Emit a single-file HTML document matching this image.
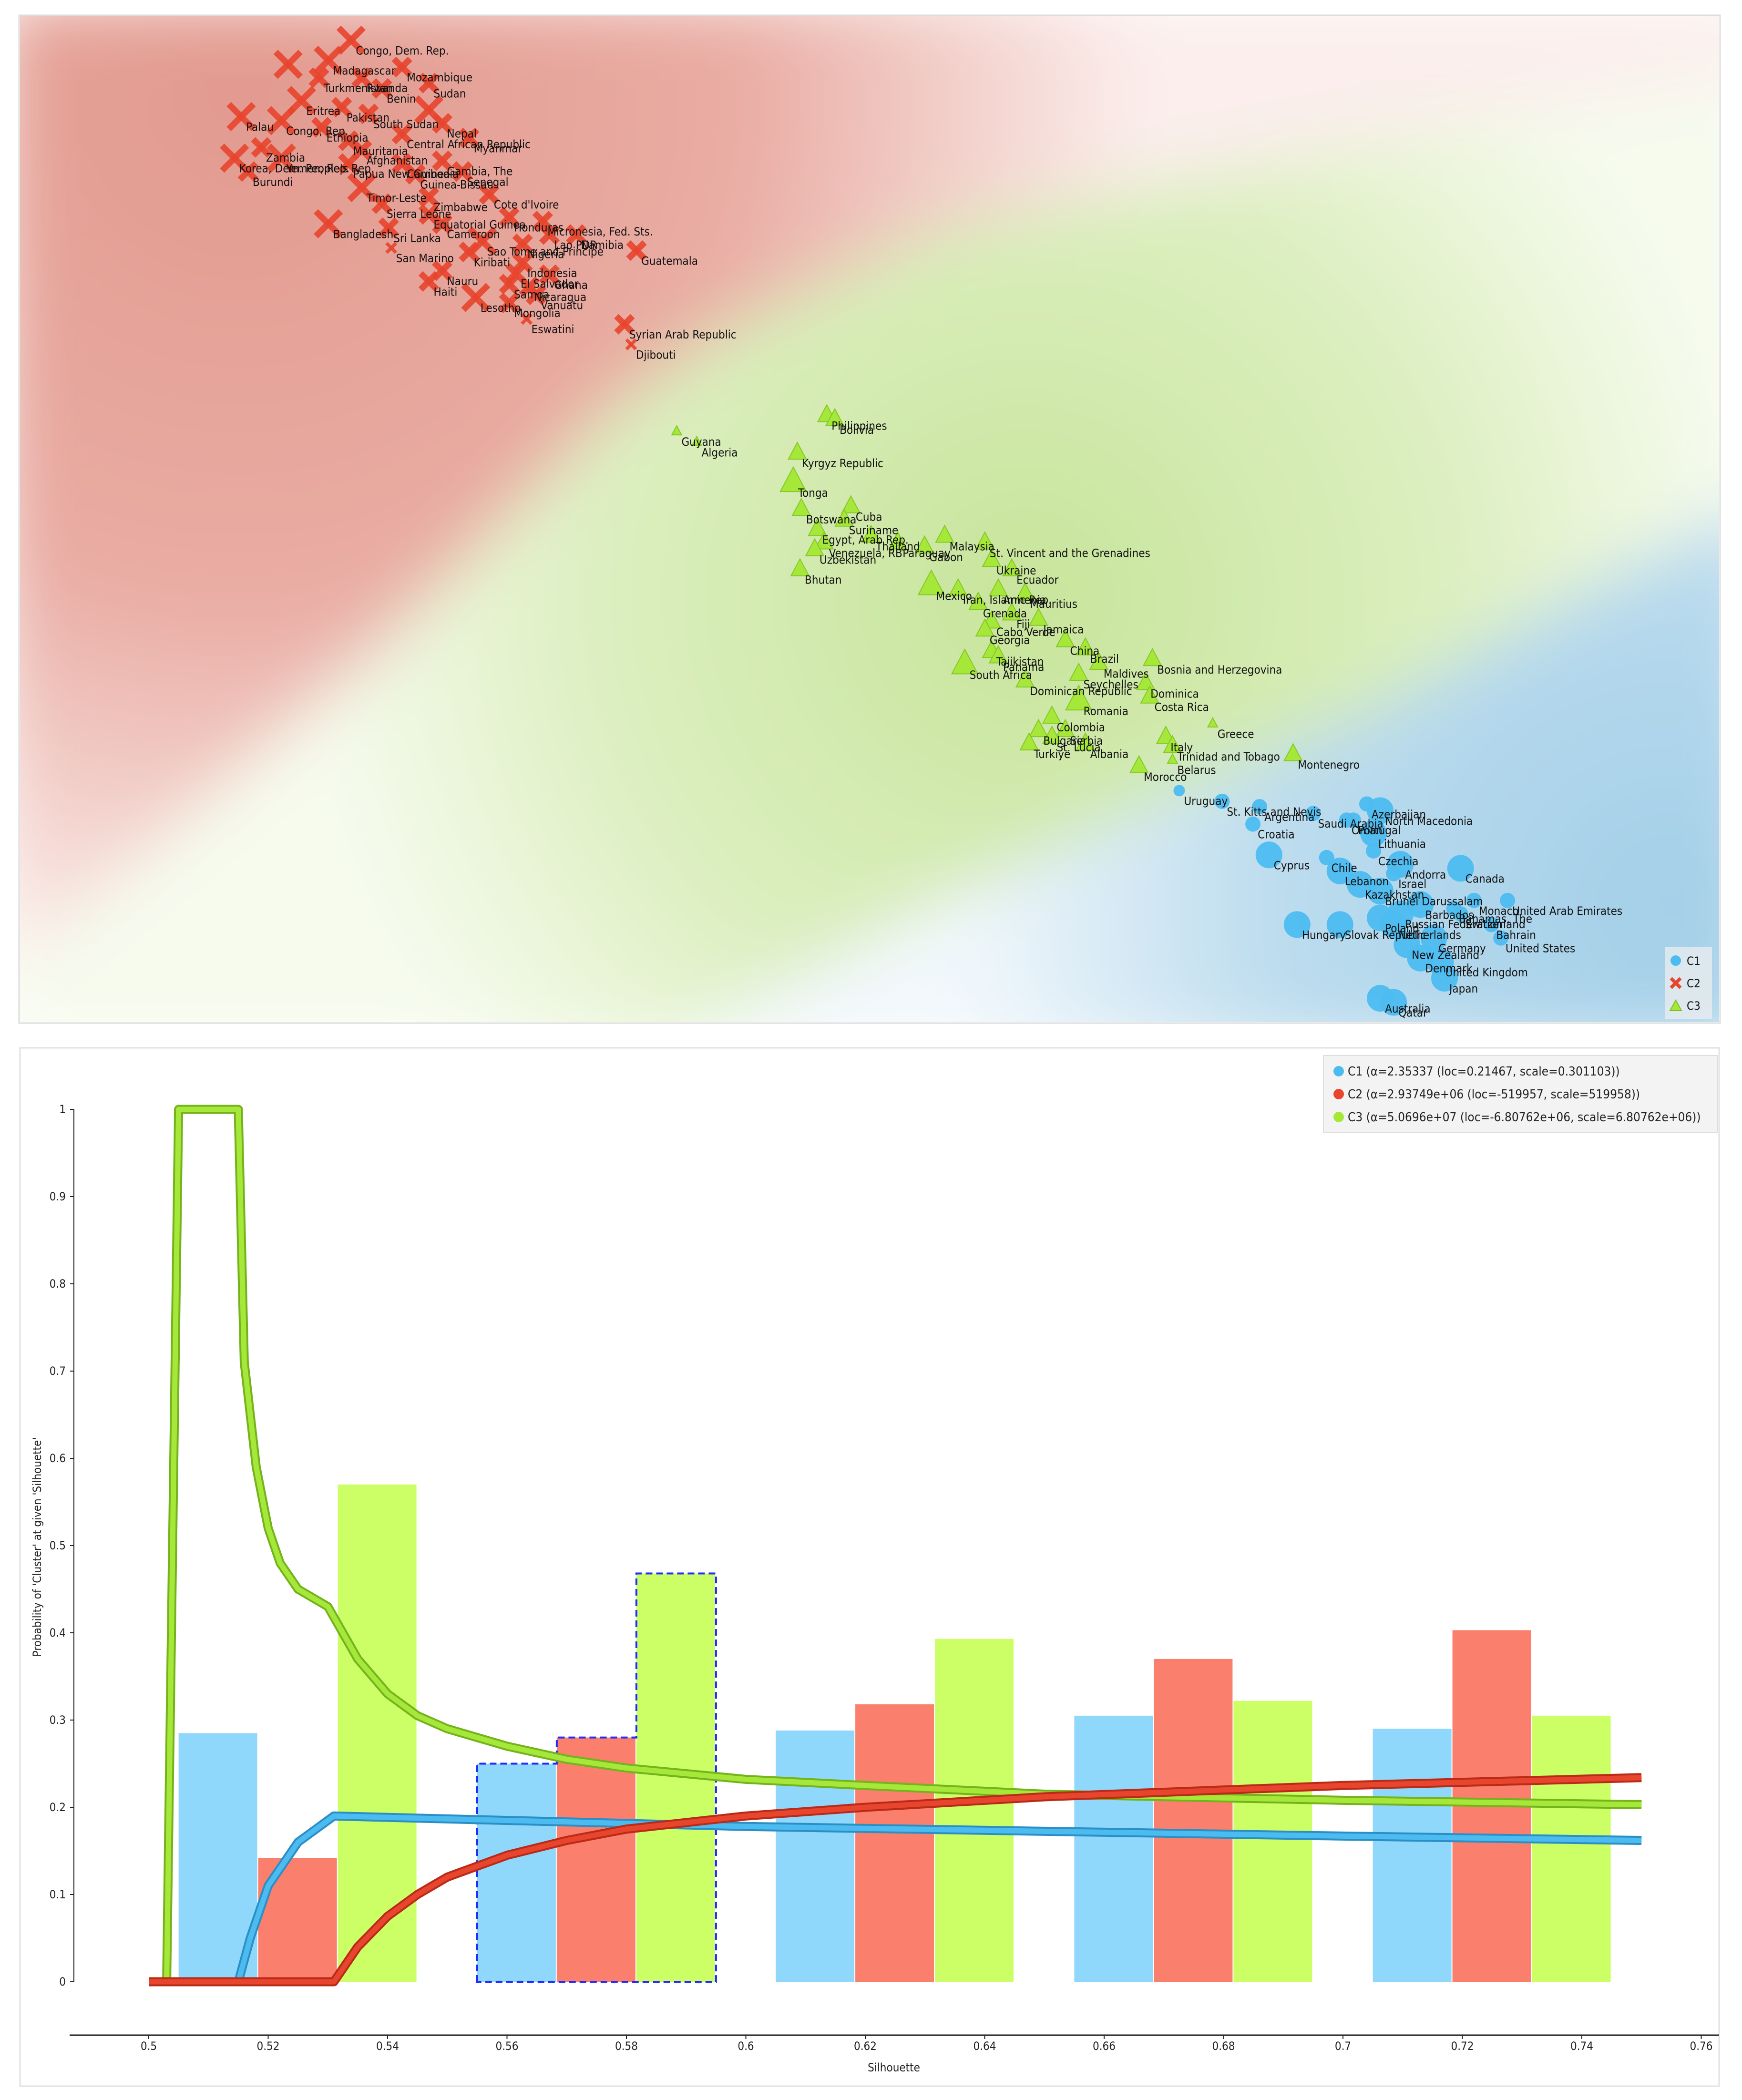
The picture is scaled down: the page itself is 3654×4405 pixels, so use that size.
<!DOCTYPE html>
<html><head><meta charset="utf-8"><style>
html,body{margin:0;padding:0;background:#fff;}
svg{display:block;}
.lbl{font-family:"DejaVu Sans Condensed","Liberation Sans Narrow","Liberation Sans",sans-serif;font-stretch:condensed;font-size:24px;fill:#111;}
.tick{font-family:"DejaVu Sans Condensed","Liberation Sans Narrow","Liberation Sans",sans-serif;font-stretch:condensed;font-size:24px;fill:#222;}
.leg{font-family:"DejaVu Sans Condensed","Liberation Sans Narrow","Liberation Sans",sans-serif;font-stretch:condensed;font-size:26px;fill:#222;}
</style></head><body>
<svg id="svg" xmlns="http://www.w3.org/2000/svg" width="3654" height="4405" viewBox="0 0 3654 4405">
<defs>
<filter id="blur" x="-20%" y="-20%" width="140%" height="140%"><feGaussianBlur stdDeviation="70"/></filter>
<radialGradient id="gRed" gradientUnits="userSpaceOnUse" cx="500" cy="200" r="1900"><stop offset="0" stop-color="#e29a8f"/><stop offset="0.55" stop-color="#e9aca3"/><stop offset="1" stop-color="#fbeeec"/></radialGradient>
<radialGradient id="gGreen" gradientUnits="userSpaceOnUse" cx="2150" cy="1250" r="1500"><stop offset="0" stop-color="#c7e49a"/><stop offset="0.6" stop-color="#dcefc0"/><stop offset="1" stop-color="#f6fbee"/></radialGradient>
<radialGradient id="gBlue" gradientUnits="userSpaceOnUse" cx="3500" cy="1900" r="1500"><stop offset="0" stop-color="#a3cfe8"/><stop offset="0.55" stop-color="#bcdcee"/><stop offset="1" stop-color="#f2f8fc"/></radialGradient>
<clipPath id="topClip"><rect x="42" y="34" width="3564" height="2110"/></clipPath>
</defs>
<g>
<rect x="40" y="32" width="3568" height="2114" fill="#fff" stroke="#ddd" stroke-width="3"/>
<g clip-path="url(#topClip)">
<g filter="url(#blur)">
<polygon points="0,0 3700,0 3700,150 3100,250 1967,480 1500,700 1293,843 800,1350 0,2050" fill="url(#gRed)"/>
<polygon points="0,2050 800,1350 1293,843 1500,700 1967,480 3100,250 3700,150 3700,1050 3300,1250 2900,1480 2470,1660 1950,1900 1400,2200 0,2200" fill="url(#gGreen)"/>
<polygon points="1400,2200 1950,1900 2470,1660 2900,1480 3300,1250 3700,1050 3700,2200" fill="url(#gBlue)"/>
</g>
</g>
<g id="pts"></g>
<g>
<rect x="3493" y="1987" width="98" height="150" fill="#e9ecef" opacity="0.8"/>
<circle cx="3515" cy="2015" r="11" fill="#4cbcf0"/><text class="lbl" x="3538" y="2024">C1</text>
<g stroke="#e8452e" stroke-width="7"><line x1="3505" y1="2052" x2="3525" y2="2072"/><line x1="3525" y1="2052" x2="3505" y2="2072"/></g><text class="lbl" x="3538" y="2071">C2</text>
<polygon points="3515,2098 3527,2120 3503,2120" fill="#a6e83a" stroke="#7fbf1e" stroke-width="2"/><text class="lbl" x="3538" y="2118">C3</text>
</g>
</g>
<g>
<rect x="42" y="2198" width="3564" height="2178" fill="#fff" stroke="#e2e2e2" stroke-width="3"/>
<g id="chart"></g>
<g>
<rect x="2776" y="2214" width="827" height="161" fill="#f3f3f3" stroke="#ddd" stroke-width="2"/>
<circle cx="2808" cy="2247" r="11" fill="#4cbcf0"/><text class="leg" x="2827" y="2256">C1 (α=2.35337 (loc=0.21467, scale=0.301103))</text>
<circle cx="2808" cy="2295" r="11" fill="#e8452e"/><text class="leg" x="2827" y="2304">C2 (α=2.93749e+06 (loc=-519957, scale=519958))</text>
<circle cx="2808" cy="2343" r="11" fill="#a6e83a"/><text class="leg" x="2827" y="2352">C3 (α=5.0696e+07 (loc=-6.80762e+06, scale=6.80762e+06))</text>
</g>
</g>
</svg>
<script>
const c2 = [[262,30,3,"Congo, Dem. Rep."],[215,48,3,""],[245,45,3,"Madagascar"],[300,50,2,"Mozambique"],[238,58,2,"Turkmenistan"],[270,58,2,"Rwanda"],[320,62,2,"Sudan"],[285,66,2,"Benin"],[225,75,3,"Eritrea"],[255,80,2,"Pakistan"],[275,85,2,"South Sudan"],[320,82,3,""],[180,87,3,"Palau"],[210,90,3,"Congo, Rep."],[330,92,2,"Nepal"],[240,95,2,"Ethiopia"],[300,100,2,"Central African Republic"],[350,103,2,"Myanmar"],[260,105,2,"Mauritania"],[195,110,2,"Zambia"],[270,112,2,"Afghanistan"],[175,118,3,"Korea, Dem. People's Rep."],[210,118,3,"Yemen, Rep."],[260,122,2,"Papua New Guinea"],[300,122,2,"Cambodia"],[330,120,2,"Gambia, The"],[345,128,2,"Senegal"],[185,128,2,"Burundi"],[310,130,2,"Guinea-Bissau"],[270,140,3,"Timor-Leste"],[320,147,2,"Zimbabwe"],[285,152,2,"Sierra Leone"],[365,145,2,"Cote d'Ivoire"],[320,160,2,"Equatorial Guinea"],[330,167,2,"Cameroon"],[380,162,2,"Honduras"],[405,165,2,"Micronesia, Fed. Sts."],[245,167,3,"Bangladesh"],[290,170,2,"Sri Lanka"],[410,175,2,"Lao PDR"],[430,175,2,"Namibia"],[360,180,3,"Sao Tome and Principe"],[390,182,2,"Nigeria"],[350,188,2,"Kiribati"],[475,187,2,"Guatemala"],[390,196,2,"Indonesia"],[292,185,1,"San Marino"],[330,202,2,"Nauru"],[385,204,2,"El Salvador"],[410,205,2,"Ghana"],[320,210,2,"Haiti"],[380,212,2,"Samoa"],[395,214,2,"Nicaragua"],[400,220,2,"Vanuatu"],[355,222,3,"Lesotho"],[380,226,2,"Mongolia"],[393,238,1,"Eswatini"],[466,242,2,"Syrian Arab Republic"],[471,257,1,"Djibouti"]];
const c3 = [[505,322,1,"Guyana"],[520,330,1,"Algeria"],[617,310,2,"Philippines"],[623,313,2,"Bolivia"],[595,338,2,"Kyrgyz Republic"],[592,360,3,"Tonga"],[598,380,2,"Botswana"],[635,378,2,"Cuba"],[630,388,2,"Suriname"],[610,395,2,"Egypt, Arab Rep."],[615,405,2,"Venezuela, RB"],[608,410,2,"Uzbekistan"],[650,400,2,"Thailand"],[670,405,2,"Paraguay"],[690,408,2,"Gabon"],[705,400,2,"Malaysia"],[735,405,2,"St. Vincent and the Grenadines"],[740,418,2,"Ukraine"],[755,425,2,"Ecuador"],[597,425,2,"Bhutan"],[695,437,3,"Mexico"],[715,440,2,"Iran, Islamic Rep."],[745,440,2,"Armenia"],[765,443,2,"Mauritius"],[730,450,2,"Grenada"],[755,458,2,"Fiji"],[740,464,2,"Cabo Verde"],[775,462,2,"Jamaica"],[735,470,2,"Georgia"],[795,478,2,"China"],[810,484,2,"Brazil"],[740,486,2,"Tajikistan"],[745,490,2,"Panama"],[720,496,3,"South Africa"],[820,495,2,"Maldives"],[860,492,2,"Bosnia and Herzegovina"],[805,503,2,"Seychelles"],[765,508,2,"Dominican Republic"],[855,510,2,"Dominica"],[858,520,2,"Costa Rica"],[805,523,3,"Romania"],[785,535,2,"Colombia"],[775,545,2,"Bulgaria"],[795,545,2,"Serbia"],[785,550,2,"St. Lucia"],[768,555,2,"Turkiye"],[810,555,2,"Albania"],[905,540,1,"Greece"],[870,550,2,"Italy"],[875,557,2,"Trinidad and Tobago"],[875,567,1,"Belarus"],[850,572,2,"Morocco"],[965,563,2,"Montenegro"]];
const c1 = [[880,590,1,"Uruguay"],[912,598,2,"St. Kitts and Nevis"],[940,602,2,"Argentina"],[980,607,2,"Saudi Arabia"],[1005,612,2,"Oman"],[1010,612,2,"Portugal"],[1020,600,2,"Azerbaijan"],[1030,605,3,"North Macedonia"],[935,615,2,"Croatia"],[1025,622,3,"Lithuania"],[1025,635,2,"Czechia"],[947,638,3,"Cyprus"],[990,640,2,"Chile"],[1045,645,3,"Andorra"],[1040,652,2,"Israel"],[1000,650,3,"Lebanon"],[1090,648,3,"Canada"],[1015,660,3,"Kazakhstan"],[1030,665,3,"Brunei Darussalam"],[1100,672,2,"Monaco"],[1125,672,2,"United Arab Emirates"],[1060,675,3,"Barbados"],[1085,678,2,"Bahamas, The"],[1045,682,3,"Russian Federation"],[1090,682,2,"Switzerland"],[1030,685,3,"Poland"],[1040,690,3,"Netherlands"],[1000,690,3,"Slovak Republic"],[1113,690,2,"Bahrain"],[968,690,3,"Hungary"],[1070,700,3,"Germany"],[1120,700,2,"United States"],[1050,705,3,"New Zealand"],[1060,715,3,"Denmark"],[1075,718,3,"United Kingdom"],[1078,730,3,"Japan"],[1030,745,3,"Australia"],[1040,748,3,"Qatar"]];

const binStarts = [0.505,0.555,0.605,0.655,0.705];
const barC1 = [0.285,0.25,0.288,0.305,0.29];
const barC2 = [0.142,0.28,0.318,0.37,0.403];
const barC3 = [0.57,0.468,0.393,0.322,0.305];
const xTicks = [0.5,0.52,0.54,0.56,0.58,0.6,0.62,0.64,0.66,0.68,0.7,0.72,0.74,0.76];
const xTickLabels = ["0.5","0.52","0.54","0.56","0.58","0.6","0.62","0.64","0.66","0.68","0.7","0.72","0.74","0.76"];
const yTicks = [0,0.1,0.2,0.3,0.4,0.5,0.6,0.7,0.8,0.9,1];
const yTickLabels = ["0","0.1","0.2","0.3","0.4","0.5","0.6","0.7","0.8","0.9","1"];
const greenX = [0.5,0.503,0.505,0.515,0.516,0.518,0.52,0.522,0.525,0.53,0.535,0.54,0.545,0.55,0.56,0.57,0.58,0.6,0.62,0.65,0.7,0.75];
const greenY = [0,0,1,1,0.71,0.59,0.52,0.48,0.45,0.43,0.37,0.33,0.305,0.29,0.27,0.255,0.245,0.232,0.225,0.215,0.208,0.203];
const blueX = [0.5,0.515,0.517,0.52,0.525,0.531,0.6,0.7,0.75];
const blueY = [0,0,0.05,0.11,0.16,0.19,0.178,0.167,0.162];
const redX = [0.5,0.531,0.535,0.54,0.545,0.55,0.56,0.57,0.58,0.6,0.62,0.65,0.7,0.75];
const redY = [0,0,0.04,0.075,0.1,0.12,0.145,0.162,0.175,0.19,0.2,0.212,0.225,0.234];
const selectedBin = 1;

const NS = "http://www.w3.org/2000/svg";
function mk(tag, attrs, parent){const e=document.createElementNS(NS,tag);for(const k in attrs)e.setAttribute(k,attrs[k]);parent.appendChild(e);return e;}

const S = 3654/1300;
const sx = v => v*S, sy = v => v*S;
const pts = document.getElementById('pts');
const R1={1:8,2:12,3:18}, TX={1:10,2:17,3:26}, TR={1:12,2:22,3:32};
c2.forEach(d=>{
  const g=mk('g',{},pts);
  
  
  const x=sx(d[0]),y=sy(d[1]),a=TX[d[2]],w=d[2]==1?7:13;
  mk('line',{x1:x-a,y1:y-a,x2:x+a,y2:y+a,stroke:'#e8452e','stroke-width':w,opacity:0.9},g);
  mk('line',{x1:x+a,y1:y-a,x2:x-a,y2:y+a,stroke:'#e8452e','stroke-width':w,opacity:0.9},g);
});
c3.forEach(d=>{
  const g=mk('g',{},pts);
  
  
  const x=sx(d[0]),y=sy(d[1]),a=TR[d[2]];
  mk('polygon',{points:`${x},${y-a} ${x+a*0.85},${y+a*0.6} ${x-a*0.85},${y+a*0.6}`,fill:'#a6e83a',stroke:'#86c826','stroke-width':2},g);
});
c1.forEach(d=>{
  const g=mk('g',{},pts);
  
  
  mk('circle',{cx:sx(d[0]),cy:sy(d[1]),r:R1[d[2]]+(d[2]==3?10:4),fill:'#4cbcf0',opacity:0.95},g);
});
[c2,c3,c1].forEach(arr=>arr.forEach(d=>{
  if(!d[3])return;
  const t=mk('text',{class:'lbl',x:sx(d[0])+10,y:sy(d[1])+30},pts);
  
  
  t.textContent=d[3];
}));

const chart=document.getElementById('chart');
const X = v => 312 + (v-0.5)/0.02*250.5;
const Y = p => 4157 - p*1830;
const bw = 0.04/3;
const barColors=['#8fd8fb','#fa7f6c','#ccff66'];
[barC1,barC2,barC3].forEach((arr,si)=>{
  arr.forEach((v,i)=>{
    const x0=X(binStarts[i]+si*bw), x1=X(binStarts[i]+(si+1)*bw);
    const r=mk('rect',{x:x0,y:Y(v),width:x1-x0-2,height:Y(0)-Y(v),fill:barColors[si]},chart);
    
    
  });
});
{
  const b=binStarts[selectedBin];
  const d=`M${X(b)},${Y(0)} L${X(b)},${Y(barC1[selectedBin])} L${X(b+bw)},${Y(barC1[selectedBin])} L${X(b+bw)},${Y(barC2[selectedBin])} L${X(b+2*bw)},${Y(barC2[selectedBin])} L${X(b+2*bw)},${Y(barC3[selectedBin])} L${X(b+3*bw)},${Y(barC3[selectedBin])} L${X(b+3*bw)},${Y(0)} Z`;
  const p=mk('path',{d:d,fill:'none',stroke:'#1f2bff','stroke-width':4,'stroke-dasharray':'14 8'},chart);
  
  
}
function curve(xs,ys,outer,inner,name){
  const d=xs.map((x,i)=>(i?'L':'M')+X(x)+','+Y(ys[i])).join(' ');
  const g=mk('g',{},chart);
  
  
  mk('path',{d:d,fill:'none',stroke:outer,'stroke-width':19,'stroke-linejoin':'round'},g);
  mk('path',{d:d,fill:'none',stroke:inner,'stroke-width':11,'stroke-linejoin':'round'},g);
}
curve(greenX,greenY,'#74b31c','#a6e83a','curve-c3');
curve(blueX,blueY,'#2b8fc6','#4cbcf0','curve-c1');
curve(redX,redY,'#b92a17','#e8452e','curve-c2');
const ax=mk('g',{},chart);


mk('line',{x1:146,y1:4269,x2:3606,y2:4269,stroke:'#222','stroke-width':3},ax);
xTicks.forEach((v,i)=>{
  mk('line',{x1:X(v),y1:4269,x2:X(v),y2:4277,stroke:'#222','stroke-width':2},ax);
  const t=mk('text',{class:'tick',x:X(v),y:4300,'text-anchor':'middle'},ax);
  
  
  t.textContent=xTickLabels[i];
});
const xt=mk('text',{class:'tick',x:1875,y:4345,'text-anchor':'middle'},chart);


xt.textContent='Silhouette';
const ay=mk('g',{},chart);


mk('line',{x1:155,y1:Y(1),x2:155,y2:Y(0),stroke:'#222','stroke-width':2},ay);
yTicks.forEach((v,i)=>{
  mk('line',{x1:147,y1:Y(v),x2:155,y2:Y(v),stroke:'#222','stroke-width':2},ay);
  const t=mk('text',{class:'tick',x:138,y:Y(v)+8,'text-anchor':'end'},ay);
  
  
  t.textContent=yTickLabels[i];
});
const yt=mk('text',{class:'tick',x:0,y:0,'text-anchor':'middle',transform:'translate(86,3245) rotate(-90)'},chart);


yt.textContent="Probability of 'Cluster' at given 'Silhouette'";
</script>
</body></html>
